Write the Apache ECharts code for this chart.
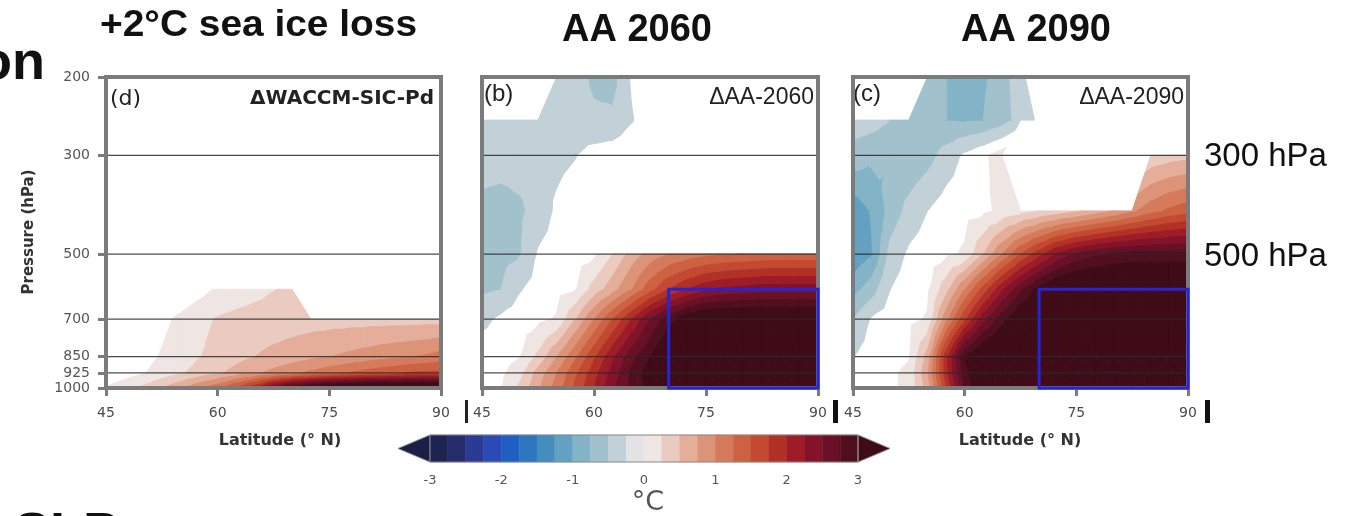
<!DOCTYPE html>
<html>
<head>
<meta charset="utf-8">
<script src="https://cdn.jsdelivr.net/npm/echarts@6/dist/echarts.min.js"></script>
<style>
  html, body { margin: 0; padding: 0; background: #ffffff; }
  #chart { width: 1348px; height: 516px; }
</style>
</head>
<body>
<div id="chart"></div>
<script>
// ---- grid of the zonal-mean temperature response (latitude x pressure) ----
const latitudes = [45, 47.5, 50, 52.5, 55, 57.5, 60, 62.5, 65, 67.5, 70, 72.5, 75, 77.5, 80, 82.5, 85, 87.5, 90];
const pressureLevels = [1000, 925, 850, 700, 600, 500, 400, 300, 250, 200];
const pressureTicks = [200, 300, 500, 700, 850, 925, 1000];
const pressureGridLines = [300, 500, 700, 850, 925];
const latitudeTicks = [45, 60, 75, 90];
const colorbarTicks = [-3, -2, -1, 0, 1, 2, 3];

// contour levels (degC) and the fill used between them (first/last = open ends)
const contourLevels = [-3, -2.75, -2.5, -2.25, -2, -1.75, -1.5, -1.25, -1, -0.75, -0.5, -0.25,
                       0, 0.25, 0.5, 0.75, 1, 1.25, 1.5, 1.75, 2, 2.25, 2.5, 2.75, 3];
const bandColors = ['#1b1f47', '#1d2452', '#242c6c', '#2b3a92', '#2c4ab6', '#1f5ec2', '#2c76be',
                    '#458dbe', '#62a1c1', '#82b3c6', '#a1c1cc', '#c2d1d7', '#e3e3e5', '#efe5e3',
                    '#ebcbbf', '#e4ae9b', '#dc9479', '#d57b5c', '#cd6243', '#c34931', '#b23127',
                    '#9d1c27', '#821329', '#681025', '#500f1f', '#3e0b16'];
const blankBand = 12; // -0.25..0 is left unfilled in the panels

// rows follow pressureLevels (1000 -> 200 hPa); null = masked
const sicPd = [
  [0.02, 0.15, 0.3, 0.5, 0.7, 0.95, 1.2, 1.55, 2.0, 2.6, 3.1, 3.4, 3.6, 3.7, 3.8, 3.8, 3.8, 3.8, 3.7],
  [-0.2, -0.12, -0.02, 0.1, 0.22, 0.34, 0.46, 0.58, 0.7, 0.82, 0.94, 1.05, 1.15, 1.25, 1.35, 1.42, 1.5, 1.55, 1.55],
  [-0.2, -0.15, -0.08, 0.02, 0.12, 0.24, 0.33, 0.42, 0.5, 0.56, 0.62, 0.69, 0.74, 0.8, 0.86, 0.92, 0.97, 1.02, 1.1],
  [-0.2, -0.2, -0.15, -0.06, 0.05, 0.18, 0.27, 0.32, 0.35, 0.37, 0.38, 0.39, 0.4, 0.4, 0.4, 0.4, 0.4, 0.4, 0.4],
  [-0.2, -0.2, -0.2, -0.2, -0.2, -0.1, 0.04, 0.1, 0.17, 0.24, 0.3, null, null, null, null, null, null, null, null],
  [null, null, null, null, null, null, null, null, null, null, null, null, null, null, null, null, null, null, null],
  [null, null, null, null, null, null, null, null, null, null, null, null, null, null, null, null, null, null, null],
  [null, null, null, null, null, null, null, null, null, null, null, null, null, null, null, null, null, null, null],
  [null, null, null, null, null, null, null, null, null, null, null, null, null, null, null, null, null, null, null],
  [null, null, null, null, null, null, null, null, null, null, null, null, null, null, null, null, null, null, null]
];

const aa2060 = [
  [-0.1, -0.02, 0.3, 0.7, 1.1, 1.55, 2.0, 2.45, 2.8, 3.1, 3.5, 3.5, 3.5, 3.5, 3.5, 3.5, 3.5, 3.5, 3.5],
  [-0.1, -0.06, 0.15, 0.6, 1.0, 1.45, 1.9, 2.35, 2.8, 3.15, 3.5, 3.5, 3.5, 3.5, 3.5, 3.5, 3.5, 3.5, 3.5],
  [-0.1, -0.08, -0.02, 0.3, 0.75, 1.2, 1.7, 2.2, 2.65, 3.0, 3.4, 3.5, 3.5, 3.5, 3.5, 3.5, 3.5, 3.5, 3.5],
  [-0.32, -0.2, -0.12, -0.06, 0.02, 0.5, 1.0, 1.5, 2.0, 2.5, 2.9, 3.2, 3.4, 3.4, 3.4, 3.4, 3.4, 3.4, 3.4],
  [-0.55, -0.5, -0.27, -0.15, -0.08, -0.02, 0.35, 0.65, 1.0, 1.4, 1.75, 2.0, 2.2, 2.3, 2.35, 2.4, 2.4, 2.4, 2.4],
  [-0.58, -0.58, -0.52, -0.22, -0.15, -0.1, -0.05, 0.25, 0.6, 0.85, 1.0, 1.1, 1.18, 1.22, 1.25, 1.28, 1.3, 1.3, 1.3],
  [-0.6, -0.62, -0.55, -0.4, -0.2, -0.1, null, null, null, null, null, null, null, null, null, null, null, null, null],
  [-0.35, -0.38, -0.38, -0.36, -0.32, -0.26, -0.15, -0.1, -0.05, -0.05, -0.05, -0.05, -0.05, -0.05, -0.05, -0.05, -0.05, -0.05, -0.05],
  [-0.3, -0.3, -0.3, -0.3, -0.32, -0.4, -0.45, -0.45, -0.27, -0.1, -0.1, -0.1, -0.1, -0.1, -0.1, -0.1, -0.1, -0.1, -0.1],
  [null, null, null, null, -0.3, -0.4, -0.55, -0.6, -0.22, -0.1, -0.1, -0.1, -0.1, -0.1, -0.1, -0.1, -0.1, -0.1, -0.1]
];

const aa2090 = [
  [-0.1, -0.06, -0.04, 0.05, 0.6, 1.7, 2.8, 3.3, 3.5, 3.5, 3.5, 3.5, 3.5, 3.5, 3.5, 3.5, 3.5, 3.5, 3.5],
  [-0.1, -0.06, -0.04, 0.05, 0.7, 1.9, 2.9, 3.4, 3.5, 3.5, 3.5, 3.5, 3.5, 3.5, 3.5, 3.5, 3.5, 3.5, 3.5],
  [-0.26, -0.12, -0.08, -0.02, 0.6, 1.9, 3.0, 3.4, 3.5, 3.5, 3.5, 3.5, 3.5, 3.5, 3.5, 3.5, 3.5, 3.5, 3.5],
  [-0.5, -0.22, -0.12, -0.06, 0.02, 0.9, 1.7, 2.4, 2.9, 3.3, 3.5, 3.5, 3.5, 3.5, 3.5, 3.5, 3.5, 3.5, 3.5],
  [-0.85, -0.62, -0.25, -0.12, -0.05, 0.4, 1.0, 1.6, 2.2, 2.7, 3.1, 3.4, 3.5, 3.5, 3.5, 3.5, 3.5, 3.5, 3.5],
  [-1.2, -1.02, -0.42, -0.2, -0.12, -0.05, 0.03, 0.5, 1.0, 1.5, 1.9, 2.3, 2.55, 2.7, 2.8, 2.85, 2.85, 2.85, 2.85],
  [-1.15, -0.98, -0.66, -0.42, -0.25, -0.12, -0.08, -0.05, 0.05, 0.15, 0.25, 0.35, 0.45, 0.6, 0.75, 0.95, 1.15, 1.3, 1.4],
  [-0.62, -0.68, -0.72, -0.7, -0.6, -0.4, -0.2, -0.05, 0.12, null, null, null, null, null, null, null, 0.3, 0.38, 0.42],
  [-0.35, -0.4, -0.5, -0.6, -0.7, -0.75, -0.78, -0.75, -0.62, -0.4, -0.2, -0.1, -0.1, -0.1, -0.1, -0.1, null, null, null],
  [null, null, null, null, -0.55, -0.75, -0.8, -0.78, -0.65, -0.3, -0.1, -0.1, -0.1, -0.1, -0.1, -0.1, null, null, null]
];

// Arctic averaging box (latitude range, pressure range)
const arcticBoxLat = [70, 90];
const arcticBoxP = [600, 1000];

const latMin = 45, latMax = 90, pTop = 200, pBottom = 1000;

// ---- filled-contour rendering: every grid cell is split into triangles and
//      each triangle is clipped into the contour bands with linear interpolation ----
function clipPoly(poly, level, keepAbove) {
  const out = [];
  const inside = q => keepAbove ? q.v >= level : q.v < level;
  for (let k = 0; k < poly.length; k++) {
    const a = poly[k], b = poly[(k + 1) % poly.length];
    const ia = inside(a), ib = inside(b);
    if (ia) out.push(a);
    if (ia !== ib) {
      const t = (level - a.v) / (b.v - a.v);
      out.push({ x: a.x + t * (b.x - a.x), y: a.y + t * (b.y - a.y), v: level });
    }
  }
  return out;
}

function buildCells(field) {
  const cells = [];
  for (let j = 0; j < pressureLevels.length - 1; j++) {
    for (let i = 0; i < latitudes.length - 1; i++) {
      cells.push({
        lat: [latitudes[i], latitudes[i + 1]],
        p: [pressureLevels[j], pressureLevels[j + 1]],
        v: [field[j][i], field[j][i + 1], field[j + 1][i + 1], field[j + 1][i]]
      });
    }
  }
  return cells;
}

function contourRenderer(cells) {
  return function (params, api) {
    const c = cells[params.dataIndex];
    const pos = [
      api.coord([c.lat[0], c.p[0]]), api.coord([c.lat[1], c.p[0]]),
      api.coord([c.lat[1], c.p[1]]), api.coord([c.lat[0], c.p[1]])
    ];
    const corners = pos.map((q, k) => ({ x: q[0], y: q[1], v: c.v[k] }));
    const valid = corners.filter(q => q.v !== null);
    const tris = [];
    if (valid.length === 4) {
      const m = {
        x: (corners[0].x + corners[1].x + corners[2].x + corners[3].x) / 4,
        y: (corners[0].y + corners[1].y + corners[2].y + corners[3].y) / 4,
        v: (corners[0].v + corners[1].v + corners[2].v + corners[3].v) / 4
      };
      for (let k = 0; k < 4; k++) tris.push([corners[k], corners[(k + 1) % 4], m]);
    } else if (valid.length === 3) {
      tris.push(valid);
    }
    const children = [];
    tris.forEach(t => {
      const vals = t.map(q => q.v);
      const vmin = Math.min.apply(null, vals), vmax = Math.max.apply(null, vals);
      for (let b = 0; b < bandColors.length; b++) {
        if (b === blankBand) continue;
        const lo = b === 0 ? -Infinity : contourLevels[b - 1];
        const hi = b === bandColors.length - 1 ? Infinity : contourLevels[b];
        if (hi <= vmin || lo > vmax) continue;
        const poly = clipPoly(clipPoly(t, lo, true), hi, false);
        if (poly.length < 3) continue;
        children.push({
          type: 'polygon',
          shape: { points: poly.map(q => [q.x, q.y]) },
          style: { fill: bandColors[b], stroke: bandColors[b], lineWidth: 1 }
        });
      }
    });
    return { type: 'group', children: children };
  };
}

const panels = [
  { field: sicPd, grid: { left: 106, top: 77, width: 335, height: 311 }, yLabels: true, box: false },
  { field: aa2060, grid: { left: 482, top: 77, width: 336, height: 311 }, yLabels: false, box: true },
  { field: aa2090, grid: { left: 853, top: 77, width: 335, height: 311 }, yLabels: false, box: true }
];

const frameColor = '#7b7b7b';
const tickFont = '"DejaVu Sans", sans-serif';
const grids = [], xAxes = [], yAxes = [], series = [];

panels.forEach((pn, idx) => {
  grids.push(Object.assign({ containLabel: false }, pn.grid));
  xAxes.push({
    type: 'value', gridIndex: idx, min: latMin, max: latMax, interval: 15,
    axisLine: { show: false },
    axisTick: { show: true, length: 8, lineStyle: { color: frameColor, width: 3 } },
    axisLabel: { fontSize: 14, color: '#4a4a4a', margin: 18, fontFamily: tickFont },
    splitLine: { show: false }
  });
  yAxes.push({
    type: 'log', logBase: 10, gridIndex: idx, min: pTop, max: pBottom, inverse: true,
    axisLine: { show: false },
    axisTick: { show: pn.yLabels, customValues: pressureTicks, length: 8, lineStyle: { color: frameColor, width: 3 } },
    axisLabel: { show: pn.yLabels, customValues: pressureTicks, fontSize: 14, color: '#555', margin: 16,
                 fontFamily: tickFont, formatter: v => String(Math.round(v)) },
    splitLine: { show: false }
  });

  const cells = buildCells(pn.field);
  series.push({
    type: 'custom', xAxisIndex: idx, yAxisIndex: idx, z: 2, silent: true, animation: false,
    renderItem: contourRenderer(cells),
    encode: { x: [0, 1], y: [2, 3] },
    data: cells.map(c => [c.lat[0], c.lat[1], c.p[0], c.p[1]])
  });
  // pressure reference lines
  series.push({
    type: 'custom', xAxisIndex: idx, yAxisIndex: idx, z: 3, silent: true, animation: false,
    encode: { x: [0, 1], y: 2 },
    data: pressureGridLines.map(p => [latMin, latMax, p]),
    renderItem: function (params, api) {
      const a = api.coord([api.value(0), api.value(2)]);
      const b = api.coord([api.value(1), api.value(2)]);
      return { type: 'line', shape: { x1: a[0], y1: a[1], x2: b[0], y2: b[1] },
               style: { stroke: '#2a2a2a', lineWidth: 1.2, opacity: 0.85 } };
    }
  });
  // panel frame
  series.push({
    type: 'custom', xAxisIndex: idx, yAxisIndex: idx, z: 5, silent: true, animation: false,
    encode: { x: [0, 1], y: [2, 3] },
    data: [[latMin, latMax, pTop, pBottom]],
    renderItem: function (params, api) {
      const a = api.coord([api.value(0), api.value(2)]);
      const b = api.coord([api.value(1), api.value(3)]);
      return { type: 'rect', shape: { x: a[0], y: a[1], width: b[0] - a[0], height: b[1] - a[1] },
               style: { fill: 'none', stroke: frameColor, lineWidth: 4 } };
    }
  });
  if (pn.box) {
    series.push({
      type: 'custom', xAxisIndex: idx, yAxisIndex: idx, z: 6, silent: true, animation: false,
      encode: { x: [0, 1], y: [2, 3] },
      data: [[arcticBoxLat[0], arcticBoxLat[1], arcticBoxP[0], arcticBoxP[1]]],
      renderItem: function (params, api) {
        const a = api.coord([api.value(0), api.value(2)]);
        const b = api.coord([api.value(1), api.value(3)]);
        return { type: 'rect', shape: { x: a[0], y: a[1], width: b[0] - a[0], height: b[1] - a[1] },
                 style: { fill: 'none', stroke: '#2424d8', lineWidth: 3 } };
      }
    });
  }
});

// ---- colour bar ----
const cbIndex = panels.length;
grids.push({ left: 430, top: 435, width: 428, height: 27 });
xAxes.push({
  type: 'value', gridIndex: cbIndex, min: -3, max: 3, interval: 1,
  axisLine: { show: false }, axisTick: { show: false }, splitLine: { show: false },
  axisLabel: { fontSize: 13, color: '#555', margin: 12, fontFamily: tickFont,
               customValues: colorbarTicks }
});
yAxes.push({ type: 'value', gridIndex: cbIndex, min: 0, max: 1, show: false });
const tipLength = 32;
series.push({
  type: 'custom', xAxisIndex: cbIndex, yAxisIndex: cbIndex, z: 2, silent: true, animation: false,
  encode: { x: 0 },
  data: bandColors.map((c, k) => [k]),
  renderItem: function (params, api) {
    const k = params.dataIndex;
    const last = bandColors.length - 1;
    const fill = bandColors[k];
    if (k === 0) {
      const top = api.coord([contourLevels[0], 1]), bot = api.coord([contourLevels[0], 0]);
      return { type: 'polygon', shape: { points: [top, bot, [bot[0] - tipLength, (top[1] + bot[1]) / 2]] },
               style: { fill: fill, stroke: '#8a8a8a', lineWidth: 1 } };
    }
    if (k === last) {
      const lv = contourLevels[contourLevels.length - 1];
      const top = api.coord([lv, 1]), bot = api.coord([lv, 0]);
      return { type: 'polygon', shape: { points: [top, bot, [bot[0] + tipLength, (top[1] + bot[1]) / 2]] },
               style: { fill: fill, stroke: '#8a8a8a', lineWidth: 1 } };
    }
    const a = api.coord([contourLevels[k - 1], 1]), b = api.coord([contourLevels[k], 0]);
    return { type: 'rect', shape: { x: a[0], y: a[1], width: b[0] - a[0], height: b[1] - a[1] },
             style: { fill: fill, stroke: fill, lineWidth: 0.5 } };
  }
});
series.push({
  type: 'custom', xAxisIndex: cbIndex, yAxisIndex: cbIndex, z: 3, silent: true, animation: false,
  encode: { x: [0, 1] },
  data: [[contourLevels[0], contourLevels[contourLevels.length - 1]]],
  renderItem: function (params, api) {
    const a = api.coord([api.value(0), 1]), b = api.coord([api.value(1), 0]);
    return { type: 'rect', shape: { x: a[0], y: a[1], width: b[0] - a[0], height: b[1] - a[1] },
             style: { fill: 'none', stroke: '#8a8a8a', lineWidth: 1 } };
  }
});

// ---- text and decorations ----
const sansBold = '"Liberation Sans", Arial, sans-serif';
function txt(text, x, y, font, opts) {
  return Object.assign({
    type: 'text', x: x, y: y, silent: true,
    style: Object.assign({ text: text, font: font, fill: '#111', textAlign: 'left', textVerticalAlign: 'middle' },
                         (opts && opts.style) || {})
  }, (opts && opts.el) || {});
}
const graphics = [
  txt('+2°C sea ice loss', 100, 26, 'bold 36px ' + sansBold, { el: { scaleX: 1.08 } }),
  txt('AA 2060', 637, 31, 'bold 38px ' + sansBold, { style: { textAlign: 'center' } }),
  txt('AA 2090', 1036, 31, 'bold 38px ' + sansBold, { style: { textAlign: 'center' } }),
  txt('on', 45, 64, 'bold 54px ' + sansBold, { style: { textAlign: 'right' } }),
  txt('SLP', 14, 508, 'bold 54px ' + sansBold, { style: { textVerticalAlign: 'top' } }),
  txt('300 hPa', 1204, 157, '33px ' + sansBold),
  txt('500 hPa', 1204, 257, '33px ' + sansBold),
  txt('(d)', 110, 99, '22px ' + tickFont, { style: { fill: '#222' } }),
  txt('\u0394WACCM-SIC-Pd', 434, 99, 'bold 20px ' + tickFont, { style: { textAlign: 'right', fill: '#222' } }),
  txt('(b)', 484, 94, '24px ' + sansBold, { style: { fill: '#222' } }),
  txt('\u0394AA-2060', 814, 98, '23px ' + sansBold, { style: { textAlign: 'right', fill: '#222' } }),
  txt('(c)', 853, 94, '24px ' + sansBold, { style: { fill: '#222' } }),
  txt('\u0394AA-2090', 1184, 98, '23px ' + sansBold, { style: { textAlign: 'right', fill: '#222' } }),
  txt('Latitude (\u00b0 N)', 280, 441, 'bold 16px ' + tickFont, { style: { textAlign: 'center', fill: '#333' } }),
  txt('Latitude (\u00b0 N)', 1020, 441, 'bold 16px ' + tickFont, { style: { textAlign: 'center', fill: '#333' } }),
  txt('Pressure (hPa)', 29, 232, 'bold 15px ' + tickFont, { style: { textAlign: 'center', fill: '#333' }, el: { rotation: Math.PI / 2 } }),
  txt('\u00b0C', 648, 503, '27px ' + tickFont, { style: { textAlign: 'center', fill: '#555' } }),
  { type: 'rect', silent: true, shape: { x: 465, y: 400, width: 3, height: 23 }, style: { fill: '#222' } },
  { type: 'rect', silent: true, shape: { x: 833, y: 400, width: 5, height: 23 }, style: { fill: '#111' } },
  { type: 'rect', silent: true, shape: { x: 1205, y: 400, width: 5, height: 23 }, style: { fill: '#111' } }
];

const chart = echarts.init(document.getElementById('chart'), null, { renderer: 'canvas' });
chart.setOption({
  backgroundColor: '#ffffff',
  animation: false,
  grid: grids,
  xAxis: xAxes,
  yAxis: yAxes,
  series: series,
  graphic: graphics
});
</script>
</body>
</html>
